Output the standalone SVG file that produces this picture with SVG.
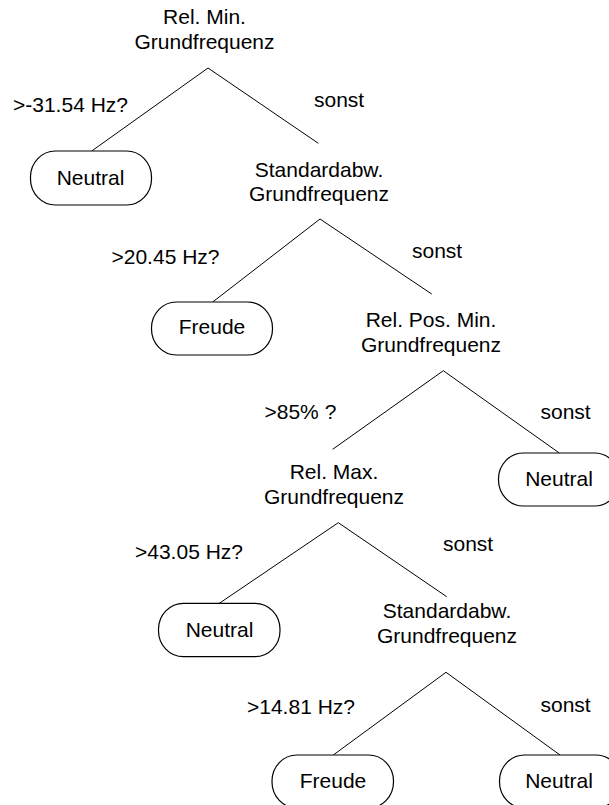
<svg xmlns="http://www.w3.org/2000/svg" width="609" height="805" viewBox="0 0 609 805">
<style>
text{font-family:"Liberation Sans",Arial,sans-serif;font-size:21px;fill:#000}
.c{text-anchor:middle}
.pill{fill:#fff;stroke:#000;stroke-width:1.2}
.edge{stroke:#000;stroke-width:1;fill:none}
</style>
<rect width="609" height="805" fill="#fff"/>
<g id="connectors">
<path class="edge" d="M91.7,151 L208,68 L318.3,143.3"/>
<path class="edge" d="M212.7,302 L320,219 L431.7,294"/>
<path class="edge" d="M332.7,449.3 L443.3,370.7 L559.3,453"/>
<path class="edge" d="M219.3,603.3 L338.3,522.7 L446.7,596.7"/>
<path class="edge" d="M333.3,755 L446,672.3 L560,755"/>
<text x="13" y="112">&gt;-31.54 Hz?</text>
<text x="314" y="107">sonst</text>
<text x="111.5" y="263.5">&gt;20.45 Hz?</text>
<text x="412" y="257.5">sonst</text>
<text x="264.5" y="418.5">&gt;85% ?</text>
<text x="540.5" y="419">sonst</text>
<text x="135" y="559">&gt;43.05 Hz?</text>
<text x="443" y="551">sonst</text>
<text x="247" y="714">&gt;14.81 Hz?</text>
<text x="540.5" y="712">sonst</text>
</g>
<g id="n_root">
<text class="c" x="204.5" y="24">Rel. Min.</text>
<text class="c" x="204.5" y="49">Grundfrequenz</text>
</g>
<g id="leaf_neutral1">
<rect class="pill" x="30.5" y="151" width="121" height="54" rx="25" ry="26"/>
<text class="c" x="90.5" y="184.5">Neutral</text>
</g>
<g id="n_std1">
<text class="c" x="319" y="177">Standardabw.</text>
<text class="c" x="319" y="201">Grundfrequenz</text>
</g>
<g id="leaf_freude1">
<rect class="pill" x="151.5" y="302" width="121" height="53" rx="25" ry="26"/>
<text class="c" x="212" y="334">Freude</text>
</g>
<g id="n_relpos">
<text class="c" x="431" y="327">Rel. Pos. Min.</text>
<text class="c" x="431" y="352">Grundfrequenz</text>
</g>
<g id="leaf_neutral2">
<rect class="pill" x="498.5" y="453" width="121" height="53" rx="25" ry="26"/>
<text class="c" x="559" y="485.5">Neutral</text>
</g>
<g id="n_relmax">
<text class="c" x="334" y="478.5">Rel. Max.</text>
<text class="c" x="334" y="504">Grundfrequenz</text>
</g>
<g id="leaf_neutral3">
<rect class="pill" x="158.5" y="603.3" width="121.5" height="53.4" rx="25" ry="26"/>
<text class="c" x="219.5" y="637">Neutral</text>
</g>
<g id="n_std2">
<text class="c" x="447" y="618">Standardabw.</text>
<text class="c" x="447" y="643">Grundfrequenz</text>
</g>
<g id="leaf_freude2">
<rect class="pill" x="272" y="755" width="121.5" height="53" rx="25" ry="26"/>
<text class="c" x="333" y="787.5">Freude</text>
</g>
<g id="leaf_neutral4">
<rect class="pill" x="499.5" y="755" width="121.5" height="53" rx="25" ry="26"/>
<text class="c" x="559" y="788">Neutral</text>
</g>
</svg>
